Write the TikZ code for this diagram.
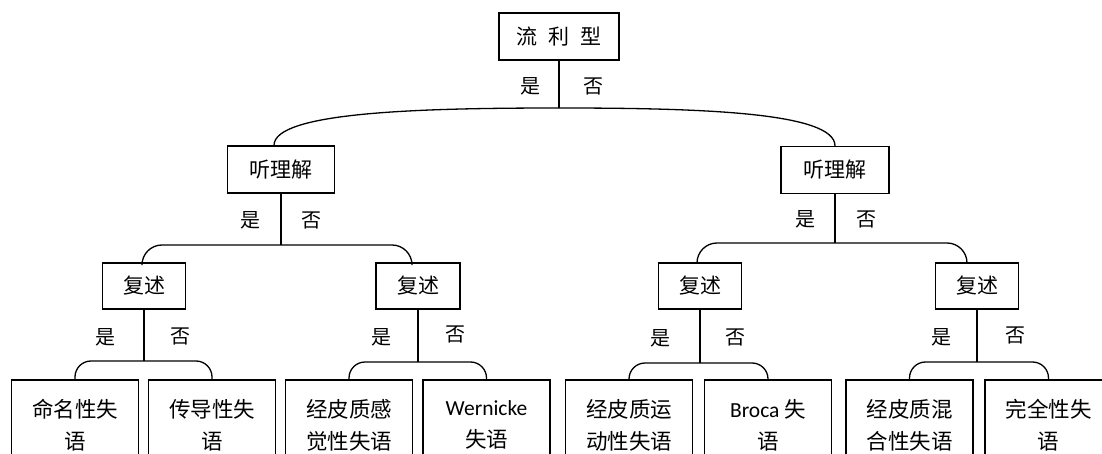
\documentclass[tikz,border=0pt]{standalone}
\usepackage{fontspec}
\setmainfont{Carlito}
\newfontfamily\cjk{Noto Sans CJK SC}
\begin{document}
\begin{tikzpicture}[x=1pt,y=-1pt,line width=1.3pt,
  qbox/.style={draw,inner sep=0pt,font=\cjk\fontsize{21}{24}\selectfont},
  leaf/.style={draw,inner sep=0pt,minimum width=127pt,minimum height=90pt,align=center,font=\fontsize{21.5}{32}\selectfont},
  yn/.style={inner sep=0pt,font=\cjk\fontsize{20}{22}\selectfont},
  br2/.style={rounded corners=20pt},
  br3/.style={rounded corners=16pt}]
\useasboundingbox (0,0) rectangle (1102,454);
\clip (0,0) rectangle (1102,454);
% nodes
\node[qbox,minimum width=120pt,minimum height=47pt] (top) at (559,36.5) {流\hspace{11pt}利\hspace{11pt}型};
\node[qbox,minimum width=107pt,minimum height=47pt] (L1) at (281,169.5) {听理解};
\node[qbox,minimum width=108pt,minimum height=47pt] (R1) at (835,170) {听理解};
\node[qbox,minimum width=83pt,minimum height=46pt] (C1) at (144,286) {复述};
\node[qbox,minimum width=84pt,minimum height=46pt] (C2) at (418,286) {复述};
\node[qbox,minimum width=83pt,minimum height=46pt] (C3) at (700,286) {复述};
\node[qbox,minimum width=83pt,minimum height=46pt] (C4) at (977,286) {复述};
\node[leaf] (D1) at (75,425) {\cjk 命名性失\\\cjk 语};
\node[leaf] (D2) at (212,425) {\cjk 传导性失\\\cjk 语};
\node[leaf] (D3) at (349,425) {\cjk 经皮质感\\\cjk 觉性失语};
\node[leaf] (D4) at (486.5,425) {Wernicke\\\cjk 失语};
\node[leaf] (D5) at (629,425) {\cjk 经皮质运\\\cjk 动性失语};
\node[leaf] (D6) at (768,425) {Broca {\cjk 失}\\\cjk 语};
\node[leaf] (D7) at (909.5,425) {\cjk 经皮质混\\\cjk 合性失语};
\node[leaf] (D8) at (1048.5,425) {\cjk 完全性失\\\cjk 语};
% junctions
\coordinate (j0) at (559,108);
\coordinate (jL) at (281,245);
\coordinate (jR) at (835,243);
\coordinate (j1) at (144,361);
\coordinate (j2) at (418,362);
\coordinate (j3) at (700,363);
\coordinate (j4) at (977,362);
% level 1
\draw (top.south) -- (j0);
\draw ([xshift=-7pt]L1.north) .. controls (274,112) and (420,108) .. (j0);
\draw (R1.north) .. controls (835,112) and (698,108) .. (j0);
% level 2
\draw (L1.south) -- (jL);
\draw[br2] ([xshift=-2pt]C1.north) |- (jL) -| ([xshift=-6pt]C2.north);
\draw (R1.south) -- (jR);
\draw[br2] ([xshift=-3pt]C3.north) |- (jR) -| ([xshift=-10pt]C4.north);
% level 3
\draw (C1.south) -- (j1);
\draw[br3] (D1.north) |- (j1) -| (D2.north);
\draw (C2.south) -- (j2);
\draw[br3] (D3.north) |- (j2) -| (D4.north);
\draw (C3.south) -- (j3);
\draw[br3] (D5.north) |- (j3) -| (D6.north);
\draw (C4.south) -- (j4);
\draw[br3] (D7.north) |- (j4) -| (D8.north);
% yes/no labels
\node[yn] (y0) at (530,86) {是};
\node[yn] (n0) at (593,86) {否};
\node[yn] (yL) at (250,220) {是};
\node[yn] (nL) at (311,220) {否};
\node[yn] (yR) at (805,219) {是};
\node[yn] (nR) at (866,219) {否};
\node[yn] (y1) at (105,337) {是};
\node[yn] (n1) at (180,336) {否};
\node[yn] (y2) at (381,337) {是};
\node[yn] (n2) at (455,334) {否};
\node[yn] (y3) at (660,338) {是};
\node[yn] (n3) at (735,337) {否};
\node[yn] (y4) at (941,337) {是};
\node[yn] (n4) at (1015,335) {否};
\end{tikzpicture}
\end{document}
